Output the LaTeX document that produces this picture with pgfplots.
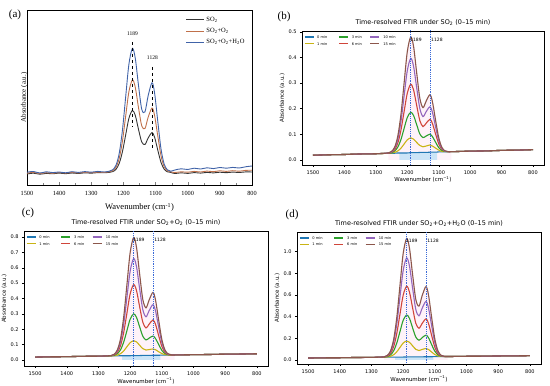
\documentclass[border=0pt]{standalone}
\usepackage{fontspec}
\setmainfont{Liberation Serif}
\newfontfamily\dv{DejaVu Sans}
\usepackage{pgfplots}
\usepackage{pgfplotstable}
\pgfplotsset{compat=1.18}

\definecolor{aBlack}{HTML}{353535}
\definecolor{aOrange}{HTML}{C0704A}
\definecolor{aBlue}{HTML}{4063A8}
\definecolor{m0}{HTML}{1F77B4}
\definecolor{m1}{HTML}{C9B414}
\definecolor{m3}{HTML}{2CA02C}
\definecolor{m6}{HTML}{D0453A}
\definecolor{m10}{HTML}{9467BD}
\definecolor{m15}{HTML}{8C564B}
\definecolor{vl}{HTML}{3A6AD8}

\pgfplotstableread{
x c0 c1 c3 c6 c10 c15
1500 0.018 0.018 0.018 0.018 0.018 0.018
1450 0.020 0.020 0.020 0.020 0.020 0.020
1400 0.021 0.021 0.021 0.021 0.021 0.021
1350 0.023 0.023 0.023 0.023 0.023 0.023
1300 0.024 0.024 0.024 0.024 0.024 0.024
1260 0.026 0.026 0.026 0.026 0.027 0.027
1250 0.026 0.027 0.028 0.030 0.031 0.033
1240 0.026 0.029 0.035 0.040 0.046 0.050
1230 0.027 0.035 0.050 0.066 0.081 0.094
1220 0.027 0.046 0.080 0.117 0.151 0.179
1210 0.027 0.062 0.123 0.189 0.250 0.301
1200 0.027 0.078 0.165 0.260 0.348 0.422
1189 0.028 0.086 0.186 0.295 0.396 0.480
1180 0.028 0.081 0.173 0.273 0.365 0.443
1170 0.028 0.068 0.137 0.212 0.281 0.339
1160 0.029 0.056 0.101 0.153 0.200 0.240
1150 0.029 0.051 0.087 0.130 0.169 0.204
1140 0.029 0.054 0.093 0.143 0.188 0.229
1128 0.030 0.058 0.100 0.158 0.207 0.254
1120 0.030 0.054 0.091 0.142 0.186 0.227
1110 0.030 0.046 0.069 0.101 0.129 0.155
1100 0.031 0.038 0.048 0.063 0.075 0.087
1090 0.031 0.033 0.037 0.041 0.045 0.049
1080 0.031 0.032 0.033 0.034 0.034 0.035
1070 0.032 0.032 0.032 0.032 0.032 0.032
1060 0.032 0.032 0.032 0.032 0.032 0.032
1000 0.034 0.034 0.034 0.034 0.034 0.034
950 0.035 0.035 0.035 0.035 0.035 0.035
900 0.037 0.037 0.037 0.037 0.037 0.037
850 0.038 0.038 0.038 0.038 0.038 0.038
800 0.040 0.040 0.040 0.040 0.040 0.040
}\tabB

\pgfplotstableread{
x c0 c1 c3 c6 c10 c15
1500 0.018 0.018 0.018 0.018 0.018 0.018
1450 0.020 0.020 0.020 0.020 0.020 0.020
1400 0.021 0.021 0.021 0.021 0.021 0.021
1350 0.023 0.023 0.023 0.023 0.023 0.023
1300 0.024 0.024 0.024 0.024 0.024 0.024
1260 0.026 0.026 0.026 0.027 0.028 0.028
1250 0.026 0.027 0.030 0.033 0.035 0.037
1240 0.026 0.031 0.041 0.050 0.059 0.067
1230 0.027 0.041 0.067 0.095 0.120 0.141
1220 0.027 0.059 0.118 0.182 0.239 0.286
1210 0.027 0.086 0.192 0.307 0.410 0.494
1200 0.027 0.112 0.265 0.430 0.578 0.699
1189 0.028 0.125 0.300 0.490 0.660 0.798
1180 0.028 0.117 0.277 0.452 0.608 0.734
1170 0.028 0.095 0.215 0.346 0.463 0.559
1160 0.029 0.073 0.154 0.245 0.327 0.393
1150 0.029 0.064 0.130 0.208 0.281 0.339
1140 0.029 0.067 0.142 0.233 0.321 0.391
1128 0.030 0.071 0.155 0.260 0.360 0.440
1120 0.030 0.066 0.139 0.232 0.320 0.391
1110 0.030 0.053 0.100 0.158 0.214 0.259
1100 0.031 0.041 0.062 0.088 0.113 0.133
1090 0.031 0.034 0.041 0.049 0.057 0.064
1080 0.031 0.032 0.034 0.035 0.037 0.039
1070 0.032 0.032 0.032 0.032 0.033 0.033
1060 0.032 0.032 0.032 0.032 0.032 0.032
1000 0.034 0.034 0.034 0.034 0.034 0.034
950 0.035 0.035 0.035 0.035 0.035 0.035
900 0.037 0.037 0.037 0.037 0.037 0.037
850 0.038 0.038 0.038 0.038 0.038 0.038
800 0.040 0.040 0.040 0.040 0.040 0.040
}\tabC

\pgfplotstableread{
x c0 c1 c3 c6 c10 c15
1500 0.018 0.018 0.018 0.018 0.018 0.018
1450 0.020 0.020 0.020 0.020 0.020 0.020
1400 0.021 0.021 0.021 0.021 0.021 0.021
1350 0.023 0.023 0.023 0.023 0.023 0.023
1300 0.024 0.024 0.024 0.024 0.024 0.024
1260 0.026 0.026 0.027 0.028 0.029 0.029
1250 0.026 0.028 0.032 0.036 0.039 0.042
1240 0.026 0.034 0.047 0.060 0.074 0.083
1230 0.027 0.048 0.084 0.123 0.162 0.189
1220 0.027 0.076 0.157 0.246 0.334 0.394
1210 0.027 0.116 0.262 0.423 0.580 0.689
1200 0.027 0.156 0.365 0.596 0.823 0.980
1189 0.028 0.175 0.415 0.680 0.941 1.121
1180 0.028 0.163 0.383 0.626 0.865 1.030
1170 0.028 0.130 0.295 0.478 0.658 0.784
1160 0.029 0.098 0.211 0.338 0.465 0.557
1150 0.029 0.087 0.182 0.293 0.407 0.497
1140 0.029 0.097 0.206 0.337 0.477 0.593
1128 0.030 0.106 0.229 0.379 0.540 0.677
1120 0.030 0.097 0.205 0.337 0.479 0.600
1110 0.030 0.073 0.141 0.225 0.315 0.391
1100 0.031 0.050 0.081 0.118 0.159 0.193
1090 0.031 0.037 0.047 0.059 0.072 0.083
1080 0.031 0.033 0.035 0.038 0.040 0.043
1070 0.032 0.032 0.032 0.033 0.033 0.033
1060 0.032 0.032 0.032 0.032 0.032 0.032
1000 0.034 0.034 0.034 0.034 0.034 0.034
950 0.035 0.035 0.035 0.035 0.035 0.035
900 0.037 0.037 0.037 0.037 0.037 0.037
850 0.038 0.038 0.038 0.038 0.038 0.038
800 0.040 0.040 0.040 0.040 0.040 0.040
}\tabD

\pgfplotsset{
  mpl/.style={
    scale only axis, x dir=reverse, xmin=765, xmax=1535,
    xtick={800,900,...,1500},
    tick align=outside, tick pos=left, major tick length=2pt,
    axis line style={line width=0.5pt},
    every tick/.style={black, line width=0.4pt},
    /pgf/number format/assume math mode=true,
    ticklabel style={font=\dv\fontsize{5}{6}\selectfont},
    xticklabel style={/pgf/number format/1000 sep={}},
    yticklabel style={/pgf/number format/.cd, fixed, fixed zerofill, precision=1},
    label style={font=\dv\fontsize{5.5}{6}\selectfont},
    xlabel={Wavenumber (cm\textsuperscript{−1})},
    ylabel={Absorbance (a.u.)},
    xlabel style={yshift=4pt},
    ylabel style={yshift=-3pt},
    title style={font=\dv\fontsize{6.5}{7}\selectfont, yshift=-4.5pt},
  }
}

\newcommand{\legitem}[6]{%
  \draw[#1, line width=1.2pt] (rel axis cs:#3,#6) -- (rel axis cs:#4,#6);
  \node[anchor=west, inner sep=0pt, font=\dv\fontsize{3.6}{4}\selectfont] at (rel axis cs:#5,#6) {#2};
}

\newcommand{\mplcurves}[1]{%
  \addplot[draw=none, fill=magenta, fill opacity=0.05, forget plot, restrict x to domain=1060:1270] table[x=x, y=c15] {#1} \closedcycle;
  \addplot[draw=none, fill=cyan, fill opacity=0.2, forget plot] coordinates {(1225,0) (1225,0.027) (1189,0.028) (1128,0.030) (1105,0.030) (1105,0)} -- cycle;
  \addplot[m0, smooth, line width=1.1pt] table[x=x, y=c0] {#1};
  \addplot[m1, smooth, line width=1.1pt] table[x=x, y=c1] {#1};
  \addplot[m3, smooth, line width=1.1pt] table[x=x, y=c3] {#1};
  \addplot[m6, smooth, line width=1.1pt] table[x=x, y=c6] {#1};
  \addplot[m10, smooth, line width=1.1pt] table[x=x, y=c10] {#1};
  \addplot[m15, smooth, line width=1.1pt] table[x=x, y=c15] {#1};
  \addplot[vl, dash pattern=on 1.2pt off 1pt, line width=0.5pt] coordinates {(1189,-1) (1189,2)};
  \addplot[vl, dash pattern=on 1.2pt off 1pt, line width=0.5pt] coordinates {(1128,-1) (1128,2)};
  \legitem{m0}{0 min}{0.012}{0.05}{0.062}{0.955}
  \legitem{m1}{1 min}{0.012}{0.05}{0.062}{0.905}
  \legitem{m3}{3 min}{0.153}{0.19}{0.205}{0.955}
  \legitem{m6}{6 min}{0.153}{0.19}{0.205}{0.905}
  \legitem{m10}{10 min}{0.281}{0.32}{0.335}{0.955}
  \legitem{m15}{15 min}{0.281}{0.32}{0.335}{0.905}
}

\begin{document}
\begin{tikzpicture}
\useasboundingbox (0pt,0pt) rectangle (550pt,386pt);

% ---------------- (a) ----------------
\begin{axis}[
  at={(27pt,201pt)}, anchor=south west, scale only axis,
  width=225pt, height=175pt,
  x dir=reverse, xmin=800, xmax=1500, ymin=0, ymax=175,
  xtick={800,900,...,1500}, minor x tick num=1, ytick=\empty,
  tick align=inside, xtick pos=left, major tick length=3pt, minor tick length=1.8pt,
  /pgf/number format/assume math mode=true,
  ticklabel style={font=\fontsize{6.3}{7}\selectfont},
  xticklabel style={/pgf/number format/1000 sep={}, yshift=-2.5pt},
  xlabel={Wavenumber (cm\textsuperscript{-1})},
  ylabel={Absorbance (a.u.)},
  xlabel style={font=\fontsize{8.5}{9}\selectfont, yshift=-1pt},
  ylabel style={font=\fontsize{7}{8}\selectfont, yshift=-4pt},
  legend style={at={(0.99,0.985)}, anchor=north east, draw=none, fill=none,
    font=\fontsize{6.5}{7}\selectfont, row sep=1.5pt},
  legend cell align=left,
  legend image code/.code={\draw[#1, line width=0.8pt] (0pt,0pt) -- (18pt,0pt);},
  every axis plot/.append style={line width=0.9pt},
]
\addplot[aBlack, smooth] coordinates {(1500,11.0)(1480,11.8)(1460,10.8)(1440,11.6)(1420,11.2)(1400,11.9)(1380,11.3)(1360,12.0)(1340,11.5)(1320,12.2)(1300,11.8)(1280,12.4)(1260,12.2)(1243,12.7)(1233,13.4)(1223,15.7)(1213,21.7)(1203,33.4)(1193,50.1)(1183,66.6)(1172,74.6)(1163,69.5)(1153,55.5)(1143,43.0)(1133,40.5)(1123,47.0)(1111,52.4)(1103,47.7)(1093,34.8)(1083,22.5)(1073,15.7)(1063,13.2)(1053,12.6)(1040,11.5)(1020,12.2)(1000,11.6)(980,12.4)(960,11.9)(940,12.6)(920,12.1)(900,12.8)(880,12.3)(860,12.9)(840,12.5)(820,13.1)(800,13.0)};
\addlegendentry{SO\textsubscript{2}}
\addplot[aOrange, smooth] coordinates {(1500,11.8)(1480,12.6)(1460,11.5)(1440,12.3)(1420,11.7)(1400,12.5)(1380,11.9)(1360,12.6)(1340,12.0)(1320,12.8)(1300,12.3)(1280,12.9)(1260,12.6)(1243,13.3)(1233,14.4)(1223,17.8)(1213,26.7)(1203,43.9)(1193,68.8)(1183,93.2)(1172,105.1)(1163,97.5)(1153,77.1)(1143,59.1)(1133,56.5)(1123,67.8)(1111,77.0)(1103,69.4)(1093,48.8)(1083,29.1)(1073,18.1)(1063,14.2)(1053,13.2)(1040,12.5)(1020,13.2)(1000,12.8)(980,13.6)(960,13.0)(940,13.9)(920,13.3)(900,14.2)(880,13.6)(860,14.3)(840,13.8)(820,14.6)(800,14.8)};
\addlegendentry{SO\textsubscript{2}+O\textsubscript{2}}
\addplot[aBlue, smooth] coordinates {(1500,12.8)(1480,13.5)(1460,12.0)(1440,13.2)(1420,12.4)(1400,13.0)(1380,12.2)(1360,13.3)(1340,12.6)(1320,13.4)(1300,12.8)(1280,13.6)(1260,13.0)(1243,13.9)(1233,15.3)(1223,19.9)(1213,31.8)(1203,54.9)(1193,88.1)(1183,120.7)(1172,136.6)(1163,126.5)(1153,99.3)(1143,75.7)(1133,73.1)(1123,89.4)(1111,102.3)(1103,91.9)(1093,63.3)(1083,35.9)(1073,20.7)(1063,15.1)(1053,13.8)(1040,15.0)(1020,16.2)(1000,15.5)(980,16.8)(960,16.0)(940,17.2)(920,16.4)(900,17.5)(880,16.8)(860,17.6)(840,17.0)(820,18.2)(800,19.0)};
\addlegendentry{SO\textsubscript{2}+O\textsubscript{2}+H\textsubscript{2}O}
\addplot[black, dashed, line width=0.9pt, forget plot] coordinates {(1172,143) (1172,58)};
\addplot[black, dashed, line width=0.9pt, forget plot] coordinates {(1110,118) (1110,35)};
\node[font=\fontsize{5.5}{6}\selectfont] at (axis cs:1172,151) {1189};
\node[font=\fontsize{5.5}{6}\selectfont] at (axis cs:1110,127) {1128};
\end{axis}

% ---------------- (b) ----------------
\begin{axis}[mpl,
  at={(302pt,221pt)}, anchor=south west, width=242pt, height=134pt,
  ymin=-0.02, ymax=0.503, ytick={0,0.1,...,0.5},
  title={Time-resolved FTIR under SO\textsubscript{2} (0–15 min)},
]
\mplcurves{\tabB}
\node[anchor=west, font=\dv\fontsize{4.5}{5}\selectfont, inner sep=0.5pt] at (axis cs:1193,0.468) {1189};
\node[anchor=west, font=\dv\fontsize{4.5}{5}\selectfont, inner sep=0.5pt] at (axis cs:1126,0.468) {1128};
\end{axis}

% ---------------- (c) ----------------
\begin{axis}[mpl,
  at={(24pt,20pt)}, anchor=south west, width=244pt, height=135pt,
  ymin=-0.04, ymax=0.84, ytick={0,0.1,...,0.8},
  title={Time-resolved FTIR under SO\textsubscript{2}+O\textsubscript{2} (0–15 min)},
]
\mplcurves{\tabC}
\node[anchor=west, font=\dv\fontsize{4.5}{5}\selectfont, inner sep=0.5pt] at (axis cs:1193,0.785) {1189};
\node[anchor=west, font=\dv\fontsize{4.5}{5}\selectfont, inner sep=0.5pt] at (axis cs:1126,0.785) {1128};
\end{axis}

% ---------------- (d) ----------------
\begin{axis}[mpl,
  at={(297pt,22pt)}, anchor=south west, width=244pt, height=132pt,
  ymin=-0.037, ymax=1.18, ytick={0,0.2,...,1.0},
  title={Time-resolved FTIR under SO\textsubscript{2}+O\textsubscript{2}+H\textsubscript{2}O (0–15 min)},
]
\mplcurves{\tabD}
\node[anchor=west, font=\dv\fontsize{4.5}{5}\selectfont, inner sep=0.5pt] at (axis cs:1193,1.10) {1189};
\node[anchor=west, font=\dv\fontsize{4.5}{5}\selectfont, inner sep=0.5pt] at (axis cs:1126,1.10) {1128};
\end{axis}

\node[font=\fontsize{11}{12}\selectfont] at (15pt,371pt) {(a)};
\node[font=\fontsize{11}{12}\selectfont] at (284pt,369pt) {(b)};
\node[font=\fontsize{11}{12}\selectfont] at (28pt,173pt) {(c)};
\node[font=\fontsize{11}{12}\selectfont] at (292pt,171pt) {(d)};
\end{tikzpicture}
\end{document}
